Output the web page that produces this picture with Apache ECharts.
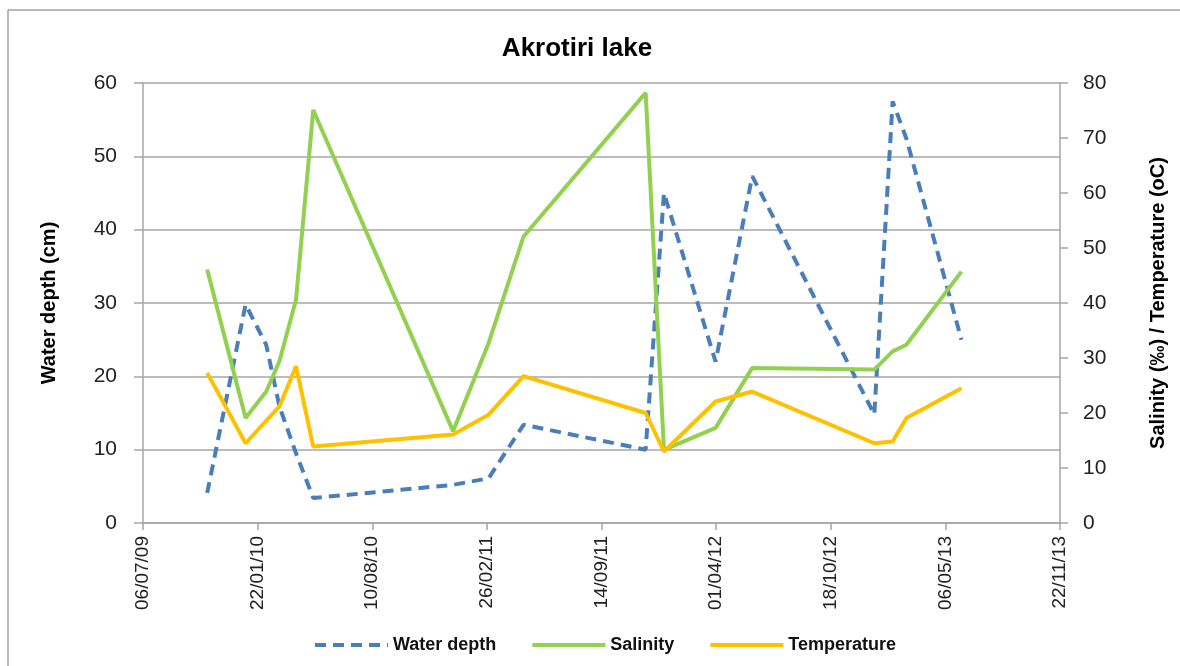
<!DOCTYPE html>
<html>
<head>
<meta charset="utf-8">
<title>Akrotiri lake</title>
<script src="https://cdn.jsdelivr.net/npm/echarts@6/dist/echarts.min.js"></script>
<style>
  html, body { margin: 0; padding: 0; background: #fff; }
  #chart { width: 1180px; height: 666px; }
</style>
</head>
<body>
<div id="chart"></div>
<script>
// sampling dates (yyyy-mm-dd)
const sampleDates = ['2009-10-26', '2010-01-01', '2010-02-06', '2010-03-01', '2010-03-30', '2010-04-29',
  '2010-12-29', '2011-03-01', '2011-05-01', '2011-11-30', '2012-01-01', '2012-03-31',
  '2012-06-03', '2013-01-02', '2013-02-03', '2013-02-27', '2013-06-03']
// water depth (cm) - left axis
const waterDepth = [4.1, 29.8, 24.3, 15.9, 9.5, 3.4, 5.2, 6.1, 13.4, 10.0, 45.0, 22.0, 47.3, 14.8, 57.5, 52.4, 25.0]
// salinity (‰) - right axis
const salinity = [46.1, 19.1, 23.9, 29.4, 40.6, 75.1, 16.7, 32.7, 52.1, 78.2, 13.3, 17.3, 28.2, 27.9, 31.2, 32.4, 45.7]
// temperature (oC) - right axis, no reading on the 3rd date
const temperature = [27.3, 14.5, null, 21.2, 28.5, 13.9, 16.1, 19.7, 26.7, 20.0, 13.0, 22.1, 23.9, 14.5, 14.8, 19.1, 24.5]

// x axis: days counted from the first tick (06/07/09), one tick every 200 days
const axisStart = '2009-07-06'
const axisDays = 1600
const tickDays = 200

const DAY = 86400000
const toUTC = s => {
  const [y, m, d] = s.split('-').map(Number)
  return Date.UTC(y, m - 1, d)
}
const base = toUTC(axisStart)
const toDay = s => (toUTC(s) - base) / DAY
const pad = n => (n < 10 ? '0' : '') + n
const dayLabel = v => {
  const d = new Date(base + v * DAY)
  return pad(d.getUTCDate()) + '/' + pad(d.getUTCMonth() + 1) + '/' + pad(d.getUTCFullYear() % 100)
}
const pairs = vals => sampleDates.map((s, i) => [toDay(s), vals[i]]).filter(p => p[1] !== null)

const gridColor = '#a6a6a6'
const font = 'Liberation Sans, Arial, sans-serif'

const chart = echarts.init(document.getElementById('chart'))
chart.setOption({
  animation: false,
  color: ['#4a7ebb', '#92d050', '#ffc000'],
  title: {
    text: 'Akrotiri lake',
    left: 572,
    top: 31,
    textAlign: 'center',
    textStyle: { fontFamily: font, fontSize: 26, fontWeight: 'bold', color: '#000' }
  },
  legend: {
    left: 308,
    top: 631,
    itemWidth: 73,
    itemHeight: 8,
    itemGap: 34,
    lineStyle: { width: 4 },
    itemStyle: { opacity: 0 },
    textStyle: { fontFamily: font, fontSize: 18, fontWeight: 'bold', color: '#111' },
    data: ['Water depth', 'Salinity', 'Temperature']
  },
  grid: { left: 143, right: 120, top: 83, bottom: 143 },
  xAxis: {
    type: 'value',
    min: 0,
    max: axisDays,
    interval: tickDays,
    axisLine: { show: true, lineStyle: { color: gridColor, width: 1.5 } },
    axisTick: { show: true, length: 7, lineStyle: { color: gridColor, width: 1.5 } },
    splitLine: { show: false },
    axisLabel: {
      rotate: 90,
      margin: 13,
      fontFamily: font,
      fontSize: 19,
      color: '#222',
      formatter: dayLabel
    }
  },
  yAxis: [
    {
      type: 'value',
      min: 0,
      max: 60,
      interval: 10,
      name: 'Water depth (cm)',
      nameLocation: 'middle',
      nameRotate: 90,
      nameGap: 84,
      nameTextStyle: { fontFamily: font, fontSize: 20, fontWeight: 'bold', color: '#000' },
      axisLine: { show: true, lineStyle: { color: gridColor, width: 1.5 } },
      axisTick: { show: true, length: 9, lineStyle: { color: gridColor, width: 1.5 } },
      splitLine: { show: true, lineStyle: { color: gridColor, width: 1.5 } },
      axisLabel: { margin: 26, fontFamily: font, fontSize: 21, color: '#222' }
    },
    {
      type: 'value',
      min: 0,
      max: 80,
      interval: 10,
      position: 'right',
      name: 'Salinity (‰) / Temperature (oC)',
      nameLocation: 'middle',
      nameRotate: 90,
      nameGap: 88,
      nameTextStyle: { fontFamily: font, fontSize: 20, fontWeight: 'bold', color: '#000' },
      axisLine: { show: true, lineStyle: { color: gridColor, width: 1.5 } },
      axisTick: { show: true, length: 8, lineStyle: { color: gridColor, width: 1.5 } },
      splitLine: { show: false },
      axisLabel: { margin: 23, fontFamily: font, fontSize: 21, color: '#222' }
    }
  ],
  graphic: [
    { type: 'line', shape: { x1: 8, y1: 10, x2: 1180, y2: 10 }, style: { stroke: '#a0a0a0', lineWidth: 1.5 } },
    { type: 'line', shape: { x1: 8, y1: 10, x2: 8, y2: 666 }, style: { stroke: '#a0a0a0', lineWidth: 1.5 } }
  ],
  series: [
    {
      name: 'Water depth',
      type: 'line',
      yAxisIndex: 0,
      symbol: 'none',
      lineStyle: { width: 4, type: [11, 7] },
      data: pairs(waterDepth)
    },
    {
      name: 'Salinity',
      type: 'line',
      yAxisIndex: 1,
      symbol: 'none',
      lineStyle: { width: 4 },
      data: pairs(salinity)
    },
    {
      name: 'Temperature',
      type: 'line',
      yAxisIndex: 1,
      symbol: 'none',
      connectNulls: true,
      lineStyle: { width: 4 },
      data: pairs(temperature)
    }
  ]
})
</script>
</body>
</html>
